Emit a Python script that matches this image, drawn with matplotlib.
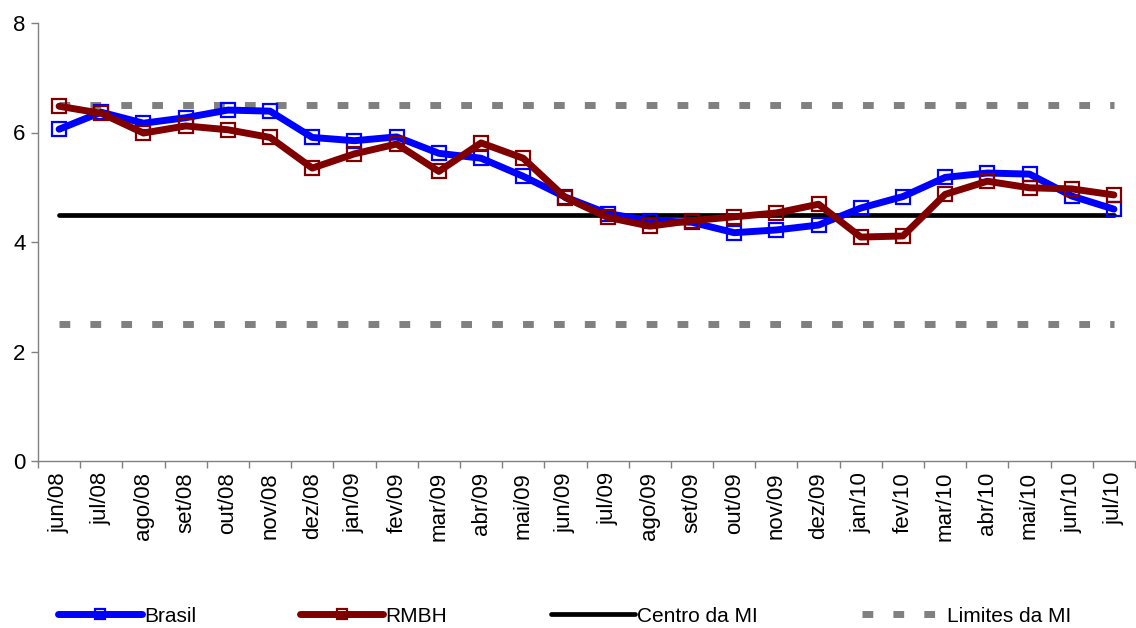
import numpy as np
import matplotlib
matplotlib.use("Agg")
import matplotlib.pyplot as plt
from matplotlib.ticker import FixedLocator

plt.rcParams['font.family'] = ['Liberation Sans', 'DejaVu Sans']

months = ["jun/08", "jul/08", "ago/08", "set/08", "out/08", "nov/08", "dez/08",
          "jan/09", "fev/09", "mar/09", "abr/09", "mai/09", "jun/09", "jul/09",
          "ago/09", "set/09", "out/09", "nov/09", "dez/09", "jan/10", "fev/10",
          "mar/10", "abr/10", "mai/10", "jun/10", "jul/10"]

brasil = [6.06, 6.37, 6.17, 6.27, 6.41, 6.39, 5.91, 5.85, 5.92, 5.62, 5.53,
          5.20, 4.82, 4.52, 4.39, 4.36, 4.17, 4.22, 4.31, 4.62, 4.83, 5.18,
          5.26, 5.24, 4.84, 4.60]
rmbh = [6.48, 6.35, 5.99, 6.12, 6.05, 5.91, 5.35, 5.61, 5.79, 5.29, 5.81,
        5.53, 4.81, 4.45, 4.29, 4.39, 4.46, 4.53, 4.69, 4.09, 4.11, 4.87,
        5.11, 4.99, 4.97, 4.86]
centro_mi = 4.5
limites_mi = (6.5, 2.5)

fig = plt.figure(figsize=(11.36, 6.28), dpi=100)
ax = fig.add_axes([38 / 1136, 1 - 461 / 628, 1097 / 1136, 438 / 628])

x = np.arange(len(months))
gray = "#808080"
dash = (1.55, 2.9)
ln_lim, = ax.plot(x, [limites_mi[0]] * len(x), color=gray, lw=5,
                  dashes=dash, label="Limites da MI", zorder=1)
ax.plot(x, [limites_mi[1]] * len(x), color=gray, lw=5, dashes=dash, zorder=1)
ln_c, = ax.plot(x, [centro_mi] * len(x), color="black", lw=3.4,
                solid_capstyle="round", label="Centro da MI", zorder=2)
ln_b, = ax.plot(x, brasil, color="#0000FF", lw=5, marker="s", ms=9.5,
                mfc="none", mec="#0000FF", mew=1.6, label="Brasil", zorder=3,
                solid_capstyle="round", solid_joinstyle="round")
ln_r, = ax.plot(x, rmbh, color="#800000", lw=5, marker="s", ms=9.5,
                mfc="none", mec="#800000", mew=1.6, label="RMBH", zorder=4,
                solid_capstyle="round", solid_joinstyle="round")

ax.set_xlim(-0.5, len(months) - 0.5)
ax.set_ylim(0, 8)
ax.set_yticks([0, 2, 4, 6, 8])
ax.tick_params(axis="y", labelsize=16, length=5, width=1, color=gray, pad=4)

ax.set_xticks(x)
ax.set_xticklabels(months, rotation=90, fontsize=16)
ax.xaxis.set_minor_locator(FixedLocator(np.arange(-0.5, len(months), 1.0)))
ax.tick_params(axis="x", which="major", length=0, pad=8)
ax.tick_params(axis="x", which="minor", length=5, width=1, color=gray)

for s in ["top", "right"]:
    ax.spines[s].set_visible(False)
for s in ["left", "bottom"]:
    ax.spines[s].set_color(gray)
    ax.spines[s].set_linewidth(1)

fig.legend(handles=[ln_b, ln_r, ln_c, ln_lim], loc="center left",
           bbox_to_anchor=(50 / 1136, 1 - 616 / 628), ncol=4, frameon=False,
           fontsize=15, handlelength=4.0, handletextpad=0.1,
           columnspacing=5.0, numpoints=1, borderaxespad=0.0, markerscale=0.8)

fig.savefig("out.png", dpi=100)
